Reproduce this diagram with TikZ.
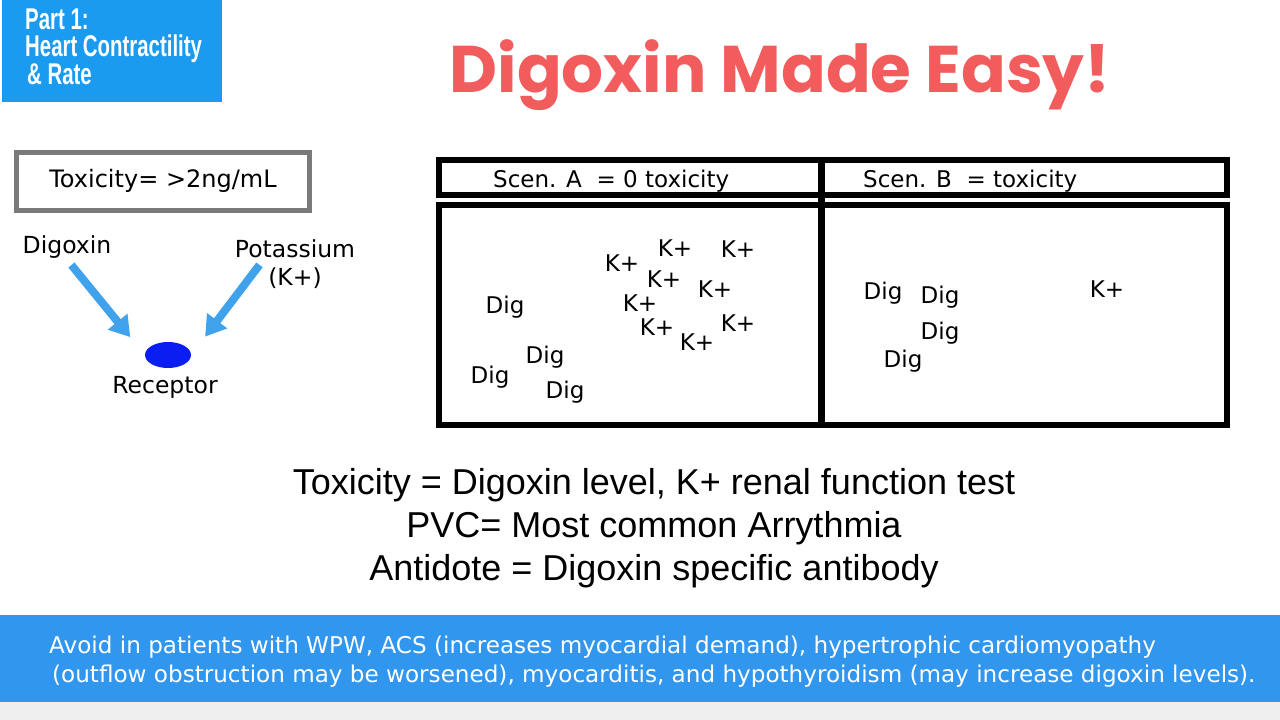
\documentclass[tikz,border=0pt]{standalone}
\usepackage{fontspec}
\setmainfont{Liberation Sans}
\newfontfamily\dvfont{DejaVu Sans}
\newfontfamily\titlefont{Poppins}
\usetikzlibrary{arrows.meta, positioning, shapes.geometric}
\definecolor{partblue}{HTML}{1A9BF0}
\definecolor{bannerblue}{HTML}{3096EE}
\definecolor{arrowblue}{HTML}{3FA2EA}
\definecolor{recblue}{HTML}{0A1EF2}
\definecolor{titlered}{HTML}{F25C5C}
\definecolor{framegray}{HTML}{7A7A7A}
\definecolor{footgray}{HTML}{EFEFEF}

\begin{document}
\begin{tikzpicture}[
    x=1pt, y=-1pt,
    lbl/.style={font=\dvfont\fontsize{23.5}{28}\selectfont, inner sep=1pt},
    ion/.style={font=\dvfont\fontsize{23}{27}\selectfont, inner sep=1pt},
    hdr/.style={anchor=west, font=\dvfont\fontsize{23}{27}\selectfont, inner sep=0pt},
    bigarrow/.style={draw=arrowblue, line width=8pt, -{Triangle[width=24pt, length=20pt]}, shorten <=7pt, shorten >=23pt},
    frame/.style={draw=black, line width=5.5pt}
]
    \useasboundingbox (0,0) rectangle (1280,720);
    \fill[white] (0,0) rectangle (1280,720);

    % Header
    \fill[partblue] (2,0) rectangle (222,102);
    \node[anchor=north west, align=left, text=white, inner sep=0pt,
          font=\bfseries\fontsize{30}{27.5}\selectfont] (part) at (25,8.5)
        {\scalebox{0.68}[1]{Part 1:}\\\scalebox{0.68}[1]{Heart Contractility}\\\hspace{2pt}\scalebox{0.68}[1]{\& Rate}};
    \node[text=titlered, font=\titlefont\bfseries\fontsize{66}{78}\selectfont] (title) at (780,75) {Digoxin Made Easy!};

    % Receptor sketch
    \node[draw=framegray, line width=5pt, minimum width=293pt, minimum height=58pt,
          font=\dvfont\fontsize{24}{28}\selectfont] (toxbox) at (163,181) {Toxicity= >2ng/mL};
    \node[lbl] (digoxin) at (67,247) {Digoxin};
    \node[lbl] (potassium) at (295,249) {Potassium};
    \node[lbl] (kion) at (295,278) {(K+)};
    \node[ellipse, fill=recblue, minimum width=46pt, minimum height=26pt, inner sep=0pt] (receptor) at (168,355) {};
    \node[lbl] (receptorlbl) at (165,387) {Receptor};
    \draw[bigarrow] (digoxin.south) -- (receptor.west);
    \draw[bigarrow] ([xshift=30pt]potassium.south west) -- (receptor.east);

    % Scenarios
    \draw[frame] (439,160) rectangle (1227,195);
    \draw[frame] (439,205) rectangle (1227,425);
    \draw[line width=7pt] (821,157) -- (821,428);
    \node[hdr] (scenA) at (493,181) {Scen. A \ = 0 toxicity};
    \node[hdr] (scenB) at (863,181) {Scen. B \ = toxicity};

    \foreach \px/\py [count=\i] in {622/263, 675/248, 738/249, 664/279, 715/289, 640/303, 657/327, 697/342, 738/323}
        \node[ion] (kA\i) at (\px,\py) {K+};
    \foreach \px/\py [count=\i] in {505/307, 545/357, 490/377, 565/392}
        \node[ion] (digA\i) at (\px,\py) {Dig};
    \foreach \px/\py [count=\i] in {883/293, 940/297, 940/333, 903/361}
        \node[ion] (digB\i) at (\px,\py) {Dig};
    \node[ion] (kB1) at (1107,289) {K+};

    % Notes
    \node[align=center, font=\fontsize{36}{43}\selectfont] (notes) at (654,528)
        {Toxicity = Digoxin level, K+ renal function test\\PVC= Most common Arrythmia\\Antidote = Digoxin specific antibody};

    % Banner
    \fill[bannerblue] (0,615) rectangle (1280,702);
    \fill[footgray] (0,702) rectangle (1280,720);
    \node[anchor=west, align=left, text=white, inner sep=0pt, font=\dvfont\fontsize{23.1}{29}\selectfont] (avoid) at (49,662)
        {Avoid in patients with WPW, ACS (increases myocardial demand), hypertrophic cardiomyopathy\\
         \hspace{3pt}(outflow obstruction may be worsened), myocarditis, and hypothyroidism (may increase digoxin levels).};
\end{tikzpicture}
\end{document}
